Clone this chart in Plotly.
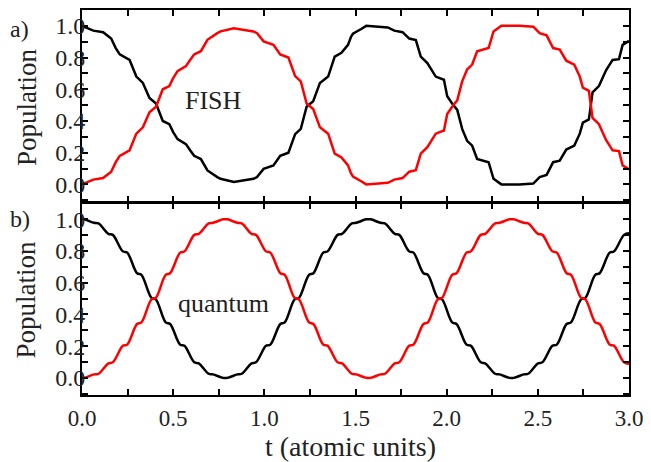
import plotly.graph_objects as go

# ---------------- data ----------------
t_fish = [0.000, 0.030, 0.062, 0.116, 0.140, 0.160, 0.185, 0.207, 0.261, 0.280,
          0.298, 0.334, 0.352, 0.370, 0.406, 0.425, 0.443, 0.479, 0.500, 0.524,
          0.570, 0.593, 0.615, 0.652, 0.670, 0.688, 0.742, 0.760, 0.833, 0.896,
          0.940, 0.960, 0.996, 1.050, 1.087, 1.132, 1.169, 1.200, 1.232, 1.268,
          1.305, 1.350, 1.386, 1.423, 1.459, 1.475, 1.486, 1.531, 1.559, 1.677,
          1.713, 1.758, 1.795, 1.831, 1.858, 1.894, 1.940, 1.985, 2.003, 2.030,
          2.058, 2.085, 2.112, 2.140, 2.167, 2.230, 2.257, 2.300, 2.400, 2.475,
          2.510, 2.548, 2.584, 2.620, 2.656, 2.700, 2.730, 2.747, 2.780, 2.800,
          2.835, 2.874, 2.910, 2.945, 2.965, 3.000]
fish_ground = [1.000, 0.985, 0.970, 0.960, 0.940, 0.920, 0.860, 0.820, 0.785, 0.730,
               0.680, 0.640, 0.590, 0.545, 0.510, 0.450, 0.400, 0.380, 0.330, 0.286,
               0.254, 0.215, 0.180, 0.160, 0.120, 0.088, 0.046, 0.035, 0.015, 0.025,
               0.035, 0.046, 0.098, 0.120, 0.180, 0.200, 0.317, 0.350, 0.490, 0.525,
               0.640, 0.680, 0.806, 0.830, 0.880, 0.930, 0.950, 0.980, 1.000, 0.990,
               0.970, 0.960, 0.920, 0.910, 0.806, 0.765, 0.680, 0.660, 0.556, 0.510,
               0.470, 0.350, 0.275, 0.244, 0.160, 0.140, 0.035, 0.000, 0.000, 0.005,
               0.046, 0.060, 0.140, 0.150, 0.220, 0.245, 0.320, 0.390, 0.410, 0.580,
               0.620, 0.720, 0.785, 0.790, 0.880, 0.905]
fish_excited = [0.000, 0.015, 0.030, 0.040, 0.060, 0.080, 0.140, 0.180, 0.215, 0.270,
                0.320, 0.360, 0.410, 0.455, 0.490, 0.550, 0.600, 0.620, 0.670, 0.714,
                0.746, 0.785, 0.820, 0.840, 0.880, 0.912, 0.954, 0.965, 0.985, 0.975,
                0.965, 0.954, 0.902, 0.880, 0.820, 0.800, 0.683, 0.650, 0.510, 0.475,
                0.360, 0.320, 0.194, 0.170, 0.120, 0.070, 0.050, 0.020, 0.000, 0.010,
                0.030, 0.040, 0.080, 0.090, 0.194, 0.235, 0.320, 0.340, 0.444, 0.490,
                0.530, 0.650, 0.725, 0.756, 0.840, 0.860, 0.965, 1.000, 1.000, 0.995,
                0.954, 0.940, 0.860, 0.850, 0.780, 0.755, 0.680, 0.610, 0.590, 0.420,
                0.380, 0.280, 0.215, 0.210, 0.120, 0.095]

t_quantum = [0.000, 0.012, 0.0665, 0.0905, 0.145, 0.169, 0.224, 0.248, 0.302, 0.326,
             0.381, 0.405, 0.459, 0.483, 0.538, 0.562, 0.616, 0.640, 0.695, 0.719,
             0.773, 0.797, 0.852, 0.876, 0.930, 0.954, 1.009, 1.033, 1.088, 1.112,
             1.166, 1.190, 1.245, 1.269, 1.323, 1.347, 1.402, 1.426, 1.480, 1.504,
             1.559, 1.583, 1.637, 1.661, 1.716, 1.740, 1.794, 1.818, 1.873, 1.897,
             1.951, 1.975, 2.030, 2.054, 2.109, 2.133, 2.187, 2.211, 2.266, 2.290,
             2.344, 2.368, 2.423, 2.447, 2.501, 2.525, 2.580, 2.604, 2.658, 2.682,
             2.737, 2.761, 2.815, 2.839, 2.894, 2.918, 2.973, 3.000]
quantum_ground = [1.000, 1.000, 0.978, 0.974, 0.908, 0.902, 0.798, 0.790, 0.660, 0.650,
                  0.505, 0.495, 0.350, 0.340, 0.210, 0.202, 0.098, 0.092, 0.026, 0.022,
                  0.000, 0.000, 0.022, 0.026, 0.092, 0.098, 0.202, 0.210, 0.340, 0.350,
                  0.495, 0.505, 0.650, 0.660, 0.790, 0.798, 0.902, 0.908, 0.974, 0.978,
                  1.000, 1.000, 0.978, 0.974, 0.908, 0.902, 0.798, 0.790, 0.660, 0.650,
                  0.505, 0.495, 0.350, 0.340, 0.210, 0.202, 0.098, 0.092, 0.026, 0.022,
                  0.000, 0.000, 0.022, 0.026, 0.092, 0.098, 0.202, 0.210, 0.340, 0.350,
                  0.495, 0.505, 0.650, 0.660, 0.790, 0.798, 0.902, 0.912]
quantum_excited = [0.000, 0.000, 0.022, 0.026, 0.092, 0.098, 0.202, 0.210, 0.340, 0.350,
                   0.495, 0.505, 0.650, 0.660, 0.790, 0.798, 0.902, 0.908, 0.974, 0.978,
                   1.000, 1.000, 0.978, 0.974, 0.908, 0.902, 0.798, 0.790, 0.660, 0.650,
                   0.505, 0.495, 0.350, 0.340, 0.210, 0.202, 0.098, 0.092, 0.026, 0.022,
                   0.000, 0.000, 0.022, 0.026, 0.092, 0.098, 0.202, 0.210, 0.340, 0.350,
                   0.495, 0.505, 0.650, 0.660, 0.790, 0.798, 0.902, 0.908, 0.974, 0.978,
                   1.000, 1.000, 0.978, 0.974, 0.908, 0.902, 0.798, 0.790, 0.660, 0.650,
                   0.505, 0.495, 0.350, 0.340, 0.210, 0.202, 0.098, 0.088]

panel_labels = ["a)", "b)"]
method_labels = ["FISH", "quantum"]
y_title = "Population"
x_title = "t (atomic units)"

# ---------------- figure ----------------
FONT = "Liberation Serif, DejaVu Serif, serif"
TXT = "#222222"

fig = go.Figure()
fig.add_trace(go.Scatter(x=t_fish, y=fish_ground, mode="lines",
                         line=dict(color="black", width=2.5), xaxis="x2", yaxis="y2"))
fig.add_trace(go.Scatter(x=t_fish, y=fish_excited, mode="lines",
                         line=dict(color="#ff0000", width=2.5), xaxis="x2", yaxis="y2"))
fig.add_trace(go.Scatter(x=t_quantum, y=quantum_ground, mode="lines",
                         line=dict(color="black", width=2.5, shape="spline", smoothing=1.0),
                         xaxis="x", yaxis="y"))
fig.add_trace(go.Scatter(x=t_quantum, y=quantum_excited, mode="lines",
                         line=dict(color="#ff0000", width=2.5, shape="spline", smoothing=1.0),
                         xaxis="x", yaxis="y"))

common = dict(showline=True, linewidth=2, linecolor="black", mirror="allticks",
              ticks="inside", ticklen=6, tickwidth=1.5, tickcolor="black",
              showgrid=False, zeroline=False)
minor_x = dict(dtick=0.25, ticks="inside", ticklen=6, tickwidth=1.5, tickcolor="black")
minor_y = dict(dtick=0.1, ticks="inside", ticklen=6, tickwidth=1.5, tickcolor="black")
xfont = dict(family=FONT, size=23, color=TXT)
yfont = dict(family=FONT, size=24, color=TXT)

xr = [0, 3]
yr = [-0.108, 1.1]
gap = 1.0 / 387
fig.update_layout(
    width=651, height=462,
    margin=dict(l=82, r=18, t=8, b=67),
    paper_bgcolor="white", plot_bgcolor="white",
    showlegend=False,
    font=dict(family=FONT, color=TXT),
    xaxis=dict(range=xr, anchor="y", dtick=0.5, tick0=0, tickformat=".1f",
               ticklabelstandoff=1, tickfont=xfont, minor=minor_x, **common),
    xaxis2=dict(range=xr, anchor="y2", matches="x", dtick=0.5, tick0=0, showticklabels=False,
                minor=minor_x, **common),
    yaxis=dict(range=yr, domain=[0, 0.5 - gap], anchor="x", dtick=0.2, tick0=0, tickformat=".1f",
               ticklabelstandoff=-10, tickfont=yfont, minor=minor_y, **common),
    yaxis2=dict(range=yr, domain=[0.5 + gap, 1], anchor="x2", dtick=0.2, tick0=0, tickformat=".1f",
                ticklabelstandoff=-10, tickfont=yfont, minor=minor_y, **common),
)

ann = []
ann.append(dict(text=panel_labels[0], xref="paper", yref="paper", x=-0.114, y=0.951,
                showarrow=False, xanchor="center", yanchor="middle",
                font=dict(family=FONT, size=24, color=TXT)))
ann.append(dict(text=panel_labels[1], xref="paper", yref="paper", x=-0.1125, y=0.457,
                showarrow=False, xanchor="center", yanchor="middle",
                font=dict(family=FONT, size=24, color=TXT)))
ann.append(dict(text=y_title, xref="paper", yref="paper", x=-0.1016, y=0.749,
                showarrow=False, xanchor="center", yanchor="middle", textangle=-90,
                font=dict(family=FONT, size=27, color=TXT)))
ann.append(dict(text=y_title, xref="paper", yref="paper", x=-0.1016, y=0.249,
                showarrow=False, xanchor="center", yanchor="middle", textangle=-90,
                font=dict(family=FONT, size=27, color=TXT)))
ann.append(dict(text=x_title, xref="paper", yref="paper", x=0.491, y=-0.133,
                showarrow=False, xanchor="center", yanchor="middle",
                font=dict(family=FONT, size=28, color=TXT)))
ann.append(dict(text=method_labels[0], xref="x2", yref="y2", x=0.722, y=0.529,
                showarrow=False, xanchor="center", yanchor="middle",
                font=dict(family=FONT, size=26, color=TXT)))
ann.append(dict(text=method_labels[1], xref="x", yref="y", x=0.776, y=0.47,
                showarrow=False, xanchor="center", yanchor="middle",
                font=dict(family=FONT, size=26, color=TXT)))
fig.update_layout(annotations=ann)

fig.write_html("out.html")
